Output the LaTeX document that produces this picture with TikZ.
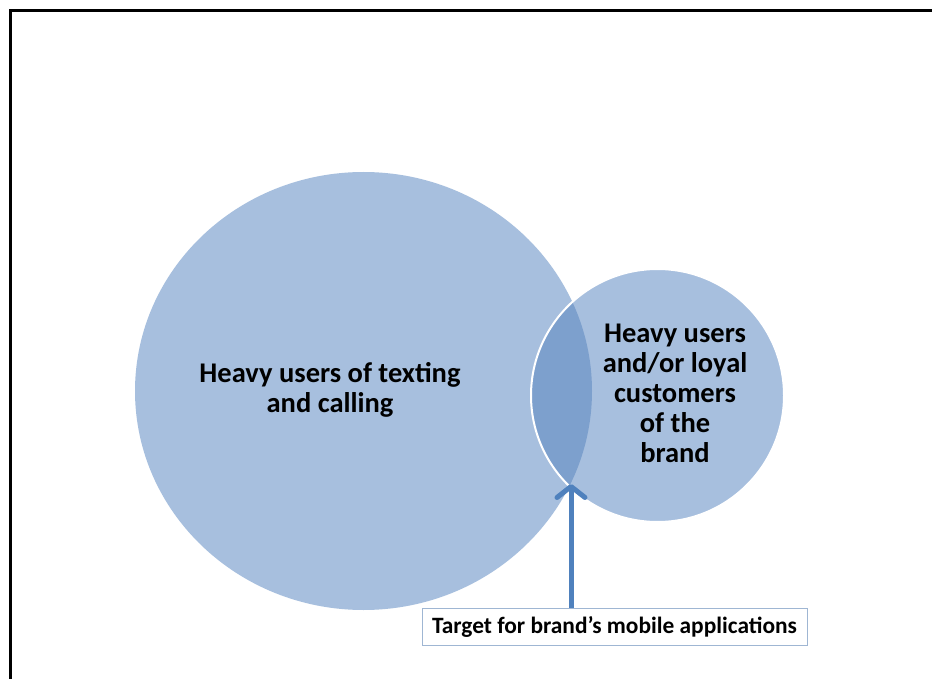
\documentclass[tikz,border=0pt]{standalone}
\usepackage{fontspec}
\setmainfont{Carlito}
\usetikzlibrary{shapes.geometric,arrows.meta}
\definecolor{setfill}{HTML}{A7BFDE}
\definecolor{lensfill}{HTML}{7DA0CD}
\definecolor{arrowblue}{HTML}{4F81BD}
\definecolor{boxline}{HTML}{9FB6D3}
\tikzset{
  setbig/.style={ellipse, fill=setfill, inner sep=0pt,
    minimum width=457pt, minimum height=438pt},
  setsmall/.style={circle, fill=setfill, inner sep=0pt, minimum size=253pt},
  setlabel/.style={font=\bfseries\fontsize{28.5}{30}\selectfont, align=center, text=black},
  targetbox/.style={draw=boxline, line width=0.8pt, fill=white, inner sep=0pt,
    minimum width=385pt, minimum height=37pt,
    font=\bfseries\fontsize{23.4}{26}\selectfont},
  pointer/.style={draw=arrowblue, line width=5pt,
    -{Straight Barb[length=11pt,width=28pt,line width=5pt,round]}}
}
\begin{document}
\begin{tikzpicture}[x=1pt,y=-1pt]
\useasboundingbox (0,0) rectangle (932,679);
\fill[white] (0,0) rectangle (932,679);
% frame, open to the right and bottom
\draw[line width=3pt] (10.8,700) -- (10.8,10.8) -- (960,10.8);
% the two sets
\node[setbig] (big) at (363.5,391) {};
\node[setsmall] (small) at (657.5,395.5) {};
% overlap
\begin{scope}
  \clip (363.5,391) ellipse [x radius=228.5, y radius=219];
  \fill[lensfill] (657.5,395.5) circle [radius=126.5];
\end{scope}
\draw[white, line width=2pt] (small.center) circle [radius=126.5];
% labels
\node[setlabel] (bigtext) at (330,390) {Heavy users of texting\\and calling};
\node[setlabel] (smalltext) at (675,393.5) {Heavy users\\and/or loyal\\customers\\of the\\brand};
% target callout
\node[targetbox] (target) at (614.5,626.5) {Target for brand’s mobile applications};
\coordinate (tip) at (571,484);
\draw[pointer] (target.north -| tip) -- (tip);
\end{tikzpicture}
\end{document}
